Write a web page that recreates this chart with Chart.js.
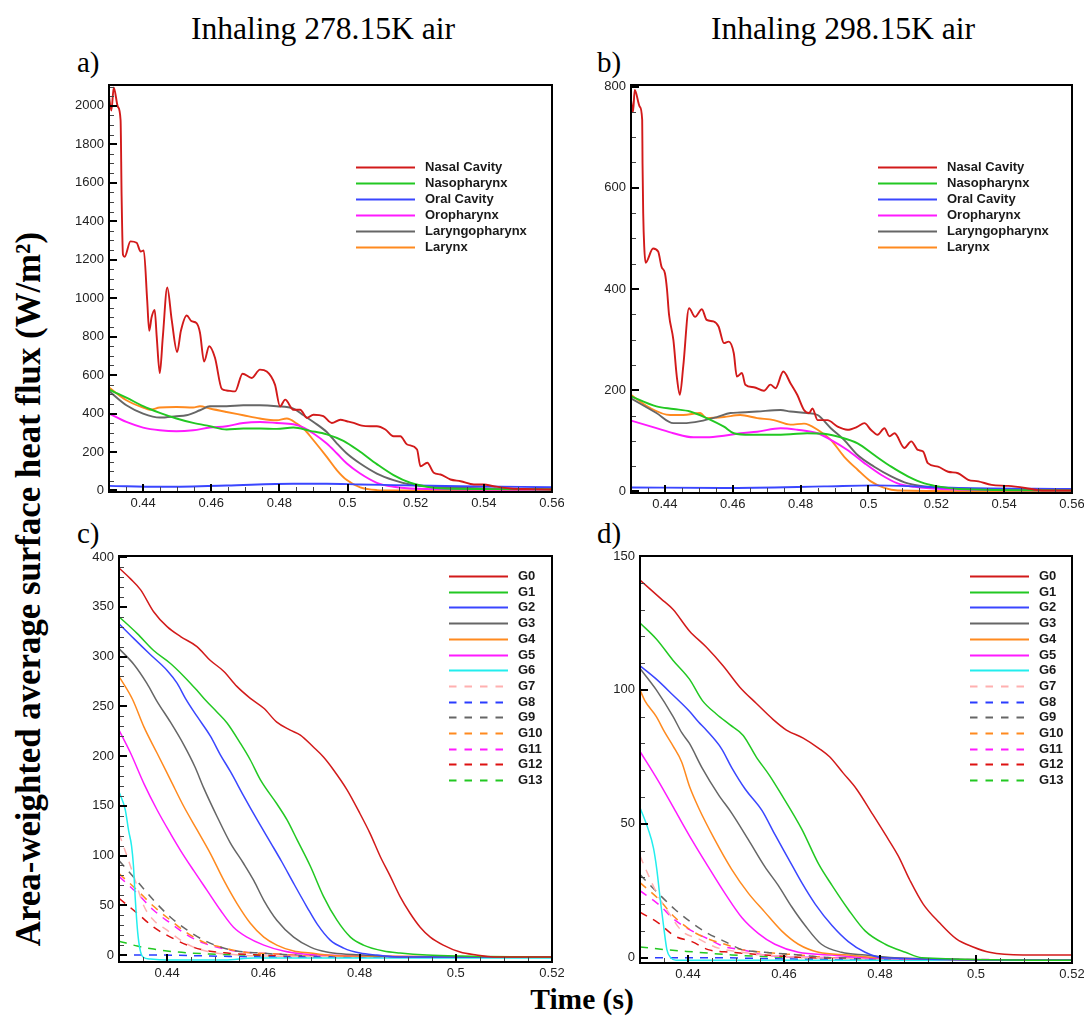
<!DOCTYPE html>
<html><head><meta charset="utf-8">
<script src="https://cdn.jsdelivr.net/npm/chart.js@4.4.1/dist/chart.umd.min.js"></script>
<style>
html,body{margin:0;padding:0;background:#fff;}
body{width:1088px;height:1018px;position:relative;overflow:hidden;}
canvas{position:absolute;}
.t{position:absolute;font-family:'Liberation Serif','Times New Roman',serif;color:#000;white-space:nowrap;line-height:1;}
</style></head><body>
<div class="t" style="left:323px;top:13px;font-size:31.6px;transform:translateX(-50%);">Inhaling 278.15K air</div>
<div class="t" style="left:843px;top:13px;font-size:31.6px;transform:translateX(-50%);">Inhaling 298.15K air</div>
<div class="t" style="left:77px;top:48px;font-size:29px;">a)</div>
<div class="t" style="left:597px;top:48px;font-size:29px;">b)</div>
<div class="t" style="left:77px;top:519px;font-size:29px;">c)</div>
<div class="t" style="left:597px;top:519px;font-size:29px;">d)</div>
<div class="t" style="left:29px;top:589px;font-size:34.8px;font-weight:bold;transform:translate(-50%,-50%) rotate(-90deg);">Area-weighted average surface heat flux (W/m²)</div>
<div class="t" style="left:582px;top:985px;font-size:29.5px;font-weight:bold;transform:translateX(-50%);">Time (s)</div>
<script>
// ---------- tick values ----------
const xTicksAB = [0.44, 0.46, 0.48, 0.5, 0.52, 0.54, 0.56];
const xTicksCD = [0.44, 0.46, 0.48, 0.5, 0.52];
const yTicksA = [0, 200, 400, 600, 800, 1000, 1200, 1400, 1600, 1800, 2000];
const yTicksB = [0, 200, 400, 600, 800];
const yTicksC = [0, 50, 100, 150, 200, 250, 300, 350, 400];
const yTicksD = [0, 50, 100, 150];

// ---------- categories ----------
const regionLabels = ['Nasal Cavity', 'Nasopharynx', 'Oral Cavity', 'Oropharynx', 'Laryngopharynx', 'Larynx'];
const genLabels = ['G0','G1','G2','G3','G4','G5','G6','G7','G8','G9','G10','G11','G12','G13'];

// ---------- panel a (278.15K, regions) [time, W/m2] ----------
const nasalA = [[0.4300,2050],[0.4307,1975],[0.4314,2095],[0.4326,1995],[0.4334,1925],[0.4337,1530],[0.4341,1225],[0.4346,1215],[0.4363,1295],[0.4381,1288],[0.4393,1242],[0.4402,1248],[0.4412,990],[0.4418,830],[0.4425,900],[0.4434,939],[0.4440,800],[0.4449,610],[0.4458,800],[0.4471,1055],[0.4484,887],[0.4500,720],[0.4511,830],[0.4528,910],[0.4542,880],[0.4557,870],[0.4567,820],[0.4579,670],[0.4594,750],[0.4611,690],[0.4631,528],[0.4645,520],[0.4670,515],[0.4692,607],[0.4719,585],[0.4743,628],[0.4763,619],[0.4787,550],[0.4802,437],[0.4817,472],[0.4841,420],[0.4861,420],[0.4881,377],[0.4900,394],[0.4929,386],[0.4954,351],[0.4979,368],[0.4998,360],[0.5018,351],[0.5042,337],[0.5067,334],[0.5086,334],[0.5111,317],[0.5135,282],[0.5155,282],[0.5175,239],[0.5204,213],[0.5214,126],[0.5234,144],[0.5253,92],[0.5273,83],[0.5302,57],[0.5332,48],[0.5371,31],[0.5400,31],[0.5429,22],[0.5478,10],[0.5537,7],[0.5600,5]];
const nasoA = [[0.43,524],[0.4351,483],[0.44,438],[0.4449,403],[0.4498,374],[0.4547,351],[0.4596,334],[0.4645,317],[0.4694,322],[0.4743,322],[0.4792,320],[0.4841,327],[0.489,310],[0.4939,292],[0.4988,258],[0.5037,201],[0.5086,137],[0.5135,80],[0.5184,40],[0.5233,19],[0.5282,10],[0.5429,7],[0.56,5]];
const oralA = [[0.43,24],[0.4449,19],[0.4645,26],[0.4841,35],[0.4939,35],[0.5037,31],[0.5135,28],[0.5331,22],[0.56,17]];
const oroA = [[0.43,400],[0.4351,356],[0.44,327],[0.4449,313],[0.4498,308],[0.4547,313],[0.4596,327],[0.4645,334],[0.4694,351],[0.4743,356],[0.4792,351],[0.4841,344],[0.4871,327],[0.49,296],[0.4939,244],[0.4969,192],[0.4998,140],[0.5037,88],[0.5086,40],[0.5135,19],[0.5184,10],[0.5331,5],[0.56,3]];
const laryngoA = [[0.43,517],[0.4351,443],[0.44,400],[0.4449,379],[0.4498,386],[0.4527,391],[0.4567,417],[0.4596,438],[0.4645,438],[0.4694,443],[0.4743,443],[0.4792,438],[0.4841,426],[0.4871,391],[0.49,356],[0.4939,304],[0.4969,244],[0.4998,192],[0.5037,140],[0.5086,88],[0.5135,54],[0.5184,31],[0.5233,22],[0.5331,14],[0.5429,9],[0.56,7]];
const larynxA = [[0.43,535],[0.4351,469],[0.44,431],[0.442,420],[0.4449,431],[0.4498,434],[0.4547,431],[0.4567,438],[0.4596,426],[0.4645,408],[0.4694,391],[0.4743,374],[0.4792,365],[0.4822,374],[0.4851,348],[0.4871,322],[0.49,261],[0.4939,175],[0.4969,105],[0.4998,54],[0.5037,16],[0.5086,2],[0.5135,0],[0.56,-1]];

// ---------- panel b (298.15K, regions) ----------
const nasalB = [[0.4300,773],[0.4306,750],[0.4311,793],[0.4326,760],[0.4333,734],[0.4334,648],[0.4336,549],[0.4339,484],[0.4343,452],[0.4365,480],[0.4380,474],[0.4390,444],[0.4400,431],[0.4406,400],[0.4412,350],[0.4425,299],[0.4435,227],[0.4444,191],[0.4454,247],[0.4471,362],[0.4489,345],[0.4509,360],[0.4523,339],[0.4543,336],[0.4558,326],[0.4574,293],[0.4588,296],[0.4603,273],[0.4612,227],[0.4627,234],[0.4637,211],[0.4662,206],[0.4692,199],[0.4711,211],[0.4726,204],[0.4749,237],[0.4770,214],[0.4790,191],[0.4810,161],[0.4825,155],[0.4835,164],[0.4850,141],[0.4879,141],[0.4909,128],[0.4938,122],[0.4968,128],[0.4988,135],[0.5007,122],[0.5027,112],[0.5047,125],[0.5062,109],[0.5077,115],[0.5106,86],[0.5126,99],[0.5146,82],[0.5161,79],[0.5175,56],[0.5205,49],[0.5235,39],[0.5264,36],[0.5294,23],[0.5324,20],[0.5363,13],[0.5412,11],[0.5462,7],[0.5511,2],[0.5600,2]];
const nasoB = [[0.43,188],[0.4375,168],[0.4425,163],[0.4474,158],[0.4523,145],[0.4574,128],[0.4603,115],[0.4652,112],[0.4721,112],[0.4770,113],[0.4819,115],[0.4869,114],[0.4918,107],[0.4968,95],[0.5017,72],[0.5067,49],[0.5116,30],[0.5165,16],[0.5215,9],[0.5265,5],[0.56,2]];
const oralB = [[0.43,8],[0.4574,7],[0.4869,10],[0.5017,12],[0.5265,7],[0.56,5]];
const oroB = [[0.43,140],[0.4375,125],[0.4425,115],[0.4484,107],[0.4523,107],[0.4574,110],[0.4622,115],[0.4672,118],[0.4741,125],[0.4790,122],[0.4850,115],[0.4889,102],[0.4938,82],[0.4988,56],[0.5037,33],[0.5086,16],[0.5136,9],[0.5215,5],[0.56,2]];
const laryngoB = [[0.43,184],[0.4375,155],[0.4425,135],[0.4454,135],[0.4504,139],[0.4553,147],[0.4593,155],[0.4622,156],[0.4672,158],[0.4741,161],[0.4770,158],[0.4819,155],[0.4850,151],[0.4889,125],[0.4928,102],[0.4968,72],[0.5017,49],[0.5067,30],[0.5116,16],[0.5165,10],[0.5265,6],[0.56,3]];
const larynxB = [[0.43,191],[0.4356,165],[0.4415,151],[0.4454,151],[0.4504,155],[0.4523,145],[0.4574,147],[0.4622,151],[0.4672,145],[0.4721,141],[0.4770,132],[0.4810,134],[0.4850,122],[0.4889,102],[0.4928,69],[0.4968,43],[0.5007,20],[0.5047,7],[0.5086,2],[0.56,0]];

// ---------- panel c (278.15K, generations) ----------
const g0C = [[0.43,389],[0.4324,378],[0.4345,367],[0.4372,345],[0.44,330],[0.4428,320],[0.4462,310],[0.449,296],[0.4518,285],[0.4545,270],[0.4573,258],[0.4601,248],[0.4628,234],[0.4656,226],[0.4677,221],[0.4704,209],[0.4725,199],[0.4746,186],[0.4774,166],[0.4801,142],[0.4822,122],[0.4843,99],[0.4864,79],[0.4884,59],[0.4905,42],[0.4926,28],[0.4947,18],[0.4974,10],[0.5009,3],[0.5043,0],[0.5078,-2],[0.52,-2]];
const g1C = [[0.43,340],[0.4338,323],[0.4372,306],[0.4407,293],[0.4435,280],[0.4462,266],[0.448,256],[0.4504,244],[0.4525,233],[0.4552,213],[0.4573,196],[0.4594,176],[0.4628,152],[0.4649,136],[0.467,116],[0.4698,89],[0.4725,59],[0.4753,35],[0.4781,18],[0.4808,10],[0.485,4],[0.4884,2],[0.494,0],[0.5009,-1],[0.52,-2]];
const g2C = [[0.43,333],[0.4331,318],[0.4365,302],[0.44,286],[0.4421,273],[0.4438,258],[0.4462,240],[0.449,220],[0.4511,201],[0.4532,184],[0.4559,160],[0.4587,136],[0.4615,113],[0.4638,94],[0.4663,72],[0.4691,48],[0.4712,31],[0.4739,15],[0.4767,7],[0.4801,2],[0.4836,0],[0.4884,-2],[0.52,-2]];
const g3C = [[0.43,308],[0.4331,292],[0.4358,273],[0.4379,255],[0.4407,234],[0.4435,211],[0.4458,189],[0.4476,168],[0.4504,139],[0.4531,113],[0.4559,92],[0.458,75],[0.4601,55],[0.4628,35],[0.4663,18],[0.4698,8],[0.4732,3],[0.4767,1],[0.4808,0],[0.4884,-2],[0.52,-2]];
const g4C = [[0.43,280],[0.4328,257],[0.4352,229],[0.4379,203],[0.4407,176],[0.4435,149],[0.4462,126],[0.449,102],[0.4518,75],[0.4545,52],[0.4573,32],[0.4601,18],[0.4628,10],[0.4663,4],[0.4698,2],[0.4732,0],[0.4767,-1],[0.52,-2]];
const g5C = [[0.43,226],[0.4324,203],[0.4352,172],[0.4379,146],[0.4407,122],[0.4428,105],[0.4455,85],[0.4483,65],[0.4511,45],[0.4538,28],[0.4566,18],[0.4601,10],[0.4642,4],[0.4684,1],[0.4732,0],[0.48,-1],[0.52,-2]];
const g6C = [[0.43,164],[0.4313,146],[0.432,125],[0.4326,110],[0.433,90],[0.4334,55],[0.4339,22],[0.4344,5],[0.435,-2],[0.4365,-4],[0.44,-5],[0.452,-5],[0.458,-3],[0.52,-3]];
const g7C = [[0.43,122],[0.4317,99],[0.4331,79],[0.4352,49],[0.4372,35],[0.44,25],[0.4428,15],[0.4455,8],[0.449,3],[0.4525,1],[0.46,-1],[0.52,-2]];
const g8C = [[0.43,0],[0.4386,0],[0.449,-1],[0.4628,-2],[0.52,-2]];
const g9C = [[0.43,95],[0.4338,74],[0.4372,55],[0.4407,38],[0.4442,25],[0.4476,15],[0.4511,8],[0.4545,4],[0.4594,2],[0.4663,0],[0.48,-2],[0.52,-2]];
const g10C = [[0.43,82],[0.4338,65],[0.4372,49],[0.4407,35],[0.4442,22],[0.4476,13],[0.4511,8],[0.4559,3],[0.4628,1],[0.47,-1],[0.52,-2]];
const g11C = [[0.43,79],[0.4338,62],[0.4372,45],[0.4407,32],[0.4442,20],[0.4476,12],[0.4511,7],[0.4559,3],[0.4628,1],[0.47,-1],[0.52,-2]];
const g12C = [[0.43,57],[0.4338,42],[0.4372,28],[0.4407,18],[0.4442,10],[0.4476,5],[0.4525,2],[0.4594,0],[0.47,-2],[0.52,-2]];
const g13C = [[0.43,14],[0.4338,9],[0.4372,6],[0.4421,3],[0.449,1],[0.4559,0],[0.4698,-2],[0.52,-2]];

// ---------- panel d (298.15K, generations) ----------
const g0D = [[0.43,141],[0.4344,134],[0.4369,130],[0.4403,122],[0.4438,116],[0.4473,109],[0.4508,101],[0.4542,95],[0.4577,89],[0.4605,85],[0.464,82],[0.4674,78],[0.4695,75],[0.4723,69],[0.4751,63],[0.4783,54],[0.4811,46],[0.4838,38],[0.4862,29],[0.489,20],[0.4924,13],[0.4959,7],[0.4994,4],[0.5028,2],[0.5098,1],[0.52,1]];
const g1D = [[0.43,125],[0.4334,119],[0.4369,111],[0.4403,104],[0.443,96],[0.4459,91],[0.4487,87],[0.4515,83],[0.4542,75],[0.457,68],[0.4591,62],[0.4637,48],[0.4672,35],[0.47,27],[0.4734,18],[0.4769,10],[0.4811,5],[0.4853,2],[0.4887,0],[0.52,-1]];
const g2D = [[0.43,109],[0.4334,104],[0.4369,98],[0.4403,92],[0.4422,88],[0.4438,85],[0.447,78],[0.4491,71],[0.4519,63],[0.4554,55],[0.4581,46],[0.4609,37],[0.4637,28],[0.4665,20],[0.47,12],[0.4734,6],[0.4769,2],[0.4804,0],[0.52,-1]];
const g3D = [[0.43,108],[0.4334,100],[0.4369,90],[0.4387,84],[0.4403,80],[0.4429,71],[0.4463,61],[0.4491,54],[0.4526,44],[0.456,34],[0.4588,27],[0.4616,19],[0.4644,12],[0.4678,5],[0.472,2],[0.4769,1],[0.483,0],[0.52,-1]];
const g4D = [[0.43,100],[0.431,96],[0.4334,90],[0.4352,84],[0.4369,79],[0.4387,73],[0.4403,64],[0.4422,56],[0.4456,44],[0.4491,33],[0.4526,24],[0.456,17],[0.4595,10],[0.463,5],[0.4672,2],[0.4734,1],[0.48,0],[0.52,-1]];
const g5D = [[0.43,77],[0.4338,66],[0.4373,55],[0.4408,44],[0.4442,34],[0.4477,24],[0.4512,15],[0.4547,9],[0.4581,5],[0.463,2],[0.47,1],[0.477,0],[0.52,-1]];
const g6D = [[0.43,56],[0.4317,48],[0.4328,41],[0.4335,33],[0.4342,22],[0.4349,12],[0.4356,3],[0.4364,0],[0.4375,-1],[0.52,-1]];
const g7D = [[0.43,38],[0.4317,31],[0.4338,23],[0.4359,17],[0.4387,10],[0.4422,7],[0.4456,4],[0.4512,2],[0.456,1],[0.465,0],[0.52,-1]];
const g8D = [[0.43,0],[0.445,0],[0.46,-0.5],[0.52,-1]];
const g9D = [[0.43,31],[0.4338,24],[0.4373,18],[0.4408,13],[0.4442,9],[0.4477,6],[0.4512,3],[0.456,2],[0.463,1],[0.47,0],[0.52,-1]];
const g10D = [[0.43,28],[0.4338,22],[0.4373,15],[0.4408,10],[0.4442,7],[0.4477,5],[0.4512,3],[0.456,2],[0.463,1],[0.47,0],[0.52,-1]];
const g11D = [[0.43,25],[0.4338,20],[0.4373,14],[0.4408,10],[0.4442,7],[0.4477,4],[0.4512,3],[0.456,1],[0.47,0],[0.52,-1]];
const g12D = [[0.43,17],[0.4338,13],[0.4373,8],[0.4408,6],[0.4442,3],[0.4491,2],[0.456,1],[0.465,0],[0.52,-1]];
const g13D = [[0.43,4],[0.4352,3],[0.4422,2],[0.4491,1],[0.463,0],[0.48,-0.5],[0.52,-1]];

// ---------- styles ----------
const regionColors = ['#d21a1a', '#22c822', '#3a46ff', '#ff1aff', '#666666', '#ff8a1f'];
const genColors = ['#d21a1a','#22c822','#3a46ff','#666666','#ff8a1f','#ff1aff','#22eeee','#ffb0b0','#2a3cff','#666666','#ff8a1f','#ff1aff','#dd1111','#22c822'];
const genDashed = [false,false,false,false,false,false,false,true,true,true,true,true,true,true];

const panels = [
  {box:{l:109,t:85,r:552,b:492}, xMin:0.43, xMax:0.56, yMin:-8, yMax:2108, xTicks:xTicksAB, yTicks:yTicksA, xMinor:0.005, yMinor:50, lw:1.9,
   labels:regionLabels, colors:regionColors, dashed:regionLabels.map(()=>false), data:[nasalA, nasoA, oralA, oroA, laryngoA, larynxA]},
  {box:{l:631,t:85,r:1072,b:493}, xMin:0.43, xMax:0.56, yMin:-3, yMax:803, xTicks:xTicksAB, yTicks:yTicksB, xMinor:0.005, yMinor:50, lw:1.9,
   labels:regionLabels, colors:regionColors, dashed:regionLabels.map(()=>false), data:[nasalB, nasoB, oralB, oroB, laryngoB, larynxB]},
  {box:{l:119,t:556,r:552,b:962}, xMin:0.43, xMax:0.52, yMin:-7, yMax:401, xTicks:xTicksCD, yTicks:yTicksC, xMinor:0.005, yMinor:10, lw:1.5,
   labels:genLabels, colors:genColors, dashed:genDashed, data:[g0C,g1C,g2C,g3C,g4C,g5C,g6C,g7C,g8C,g9C,g10C,g11C,g12C,g13C]},
  {box:{l:640,t:556,r:1072,b:963}, xMin:0.43, xMax:0.52, yMin:-2, yMax:150, xTicks:xTicksCD, yTicks:yTicksD, xMinor:0.005, yMinor:10, lw:1.5,
   labels:genLabels, colors:genColors, dashed:genDashed, data:[g0D,g1D,g2D,g3D,g4D,g5D,g6D,g7D,g8D,g9D,g10D,g11D,g12D,g13D]}
];

const legendPos = [
  {left:247, top:82, row:15.9}, {left:247, top:82, row:15.9},
  {left:330, top:20, row:15.7}, {left:330, top:20, row:15.7}
];

const framePlugin = {
  id: 'frame',
  afterDatasetsDraw(chart, args, o) {
    const {ctx, chartArea: a, scales: {x, y}} = chart;
    ctx.save();
    ctx.setLineDash([]);
    const isMajor = (v, arr) => arr.some(m => Math.abs(m - v) < 1e-9);
    const kx0 = Math.ceil(x.min / o.xMinor - 1e-6), kx1 = Math.floor(x.max / o.xMinor + 1e-6);
    for (let k = kx0; k <= kx1; k++) {
      const v = +(k * o.xMinor).toFixed(6);
      const major = isMajor(v, o.xTicks);
      const px = Math.round(x.getPixelForValue(v));
      ctx.beginPath();
      if (major) { ctx.lineWidth = 2; ctx.strokeStyle = '#000'; ctx.moveTo(px, a.bottom); ctx.lineTo(px, a.bottom - 8); }
      else { ctx.lineWidth = 1; ctx.strokeStyle = '#444'; ctx.moveTo(px + 0.5, a.bottom); ctx.lineTo(px + 0.5, a.bottom - 5); }
      ctx.stroke();
    }
    const ky0 = Math.ceil(y.min / o.yMinor - 1e-6), ky1 = Math.floor(y.max / o.yMinor + 1e-6);
    for (let k = ky0; k <= ky1; k++) {
      const v = k * o.yMinor;
      const major = isMajor(v, o.yTicks);
      const py = Math.round(y.getPixelForValue(v));
      ctx.beginPath();
      if (major) { ctx.lineWidth = 2; ctx.strokeStyle = '#000'; ctx.moveTo(a.left, py); ctx.lineTo(a.left + 8, py); }
      else { ctx.lineWidth = 1; ctx.strokeStyle = '#444'; ctx.moveTo(a.left, py + 0.5); ctx.lineTo(a.left + 5, py + 0.5); }
      ctx.stroke();
    }
    ctx.lineWidth = 2;
    ctx.strokeStyle = '#000';
    ctx.strokeRect(a.left, a.top, a.right - a.left, a.bottom - a.top);
    ctx.restore();
  }
};

const legendPlugin = {
  id: 'boxLegend',
  afterDraw(chart, args, o) {
    const {ctx, chartArea: a} = chart;
    ctx.save();
    chart.data.datasets.forEach((ds, i) => {
      const yy = Math.round(a.top + o.top + i * o.row) + 0.5;
      const x0 = a.left + o.left;
      ctx.strokeStyle = ds.borderColor;
      ctx.lineWidth = 2;
      ctx.setLineDash(ds.borderDash && ds.borderDash.length ? [7.5, 8] : []);
      ctx.beginPath(); ctx.moveTo(x0, yy); ctx.lineTo(x0 + 59, yy); ctx.stroke();
      ctx.setLineDash([]);
      ctx.fillStyle = '#1a1a1a';
      ctx.font = 'bold 13px "Liberation Sans", Arial, sans-serif';
      ctx.textBaseline = 'middle';
      ctx.textAlign = 'left';
      ctx.fillText(ds.label, x0 + 69, yy);
    });
    ctx.restore();
  }
};

const tickFont = {family: '"Liberation Sans", Arial, sans-serif', size: 13};

panels.forEach((p, idx) => {
  const padTop = 15, padRight = 12, yW = 60, xH = 30;
  const left = p.box.l - yW, top = p.box.t - padTop;
  const W = p.box.r + padRight - left, H = p.box.b + xH - top;
  const cv = document.createElement('canvas');
  cv.width = W; cv.height = H;
  cv.style.left = left + 'px'; cv.style.top = top + 'px';
  cv.style.width = W + 'px'; cv.style.height = H + 'px';
  document.body.appendChild(cv);
  const datasets = p.data.map((arr, i) => ({
    label: p.labels[i],
    data: arr.map(pt => ({x: pt[0], y: pt[1]})),
    borderColor: p.colors[i],
    backgroundColor: p.colors[i],
    borderWidth: p.lw,
    borderDash: p.dashed[i] ? [8, 7] : [],
    pointRadius: 0,
    fill: false,
    cubicInterpolationMode: 'monotone'
  }));
  new Chart(cv, {
    type: 'line',
    data: {datasets},
    options: {
      responsive: false, animation: false, events: [],
      devicePixelRatio: 1,
      layout: {padding: {top: padTop, right: padRight, left: 0, bottom: 0}},
      plugins: {
        legend: {display: false}, tooltip: {enabled: false},
        frame: {xTicks: p.xTicks, yTicks: p.yTicks, xMinor: p.xMinor, yMinor: p.yMinor},
        boxLegend: legendPos[idx]
      },
      scales: {
        x: {
          type: 'linear', min: p.xMin, max: p.xMax,
          grid: {display: false, drawTicks: false}, border: {display: false},
          afterBuildTicks: s => { s.ticks = p.xTicks.map(v => ({value: v})); },
          afterFit: s => { s.height = xH; s.paddingLeft = 0; s.paddingRight = 0; },
          ticks: {padding: 4, maxRotation: 0, minRotation: 0, autoSkip: false, font: tickFont, color: '#222', callback: v => String(v)}
        },
        y: {
          type: 'linear', min: p.yMin, max: p.yMax,
          grid: {display: false, drawTicks: false}, border: {display: false},
          afterBuildTicks: s => { s.ticks = p.yTicks.map(v => ({value: v})); },
          afterFit: s => { s.width = yW; s.paddingTop = 0; s.paddingBottom = 0; },
          ticks: {padding: 5, autoSkip: false, font: tickFont, color: '#222', callback: v => String(v)}
        }
      }
    },
    plugins: [framePlugin, legendPlugin]
  });
});
</script>
</body></html>
